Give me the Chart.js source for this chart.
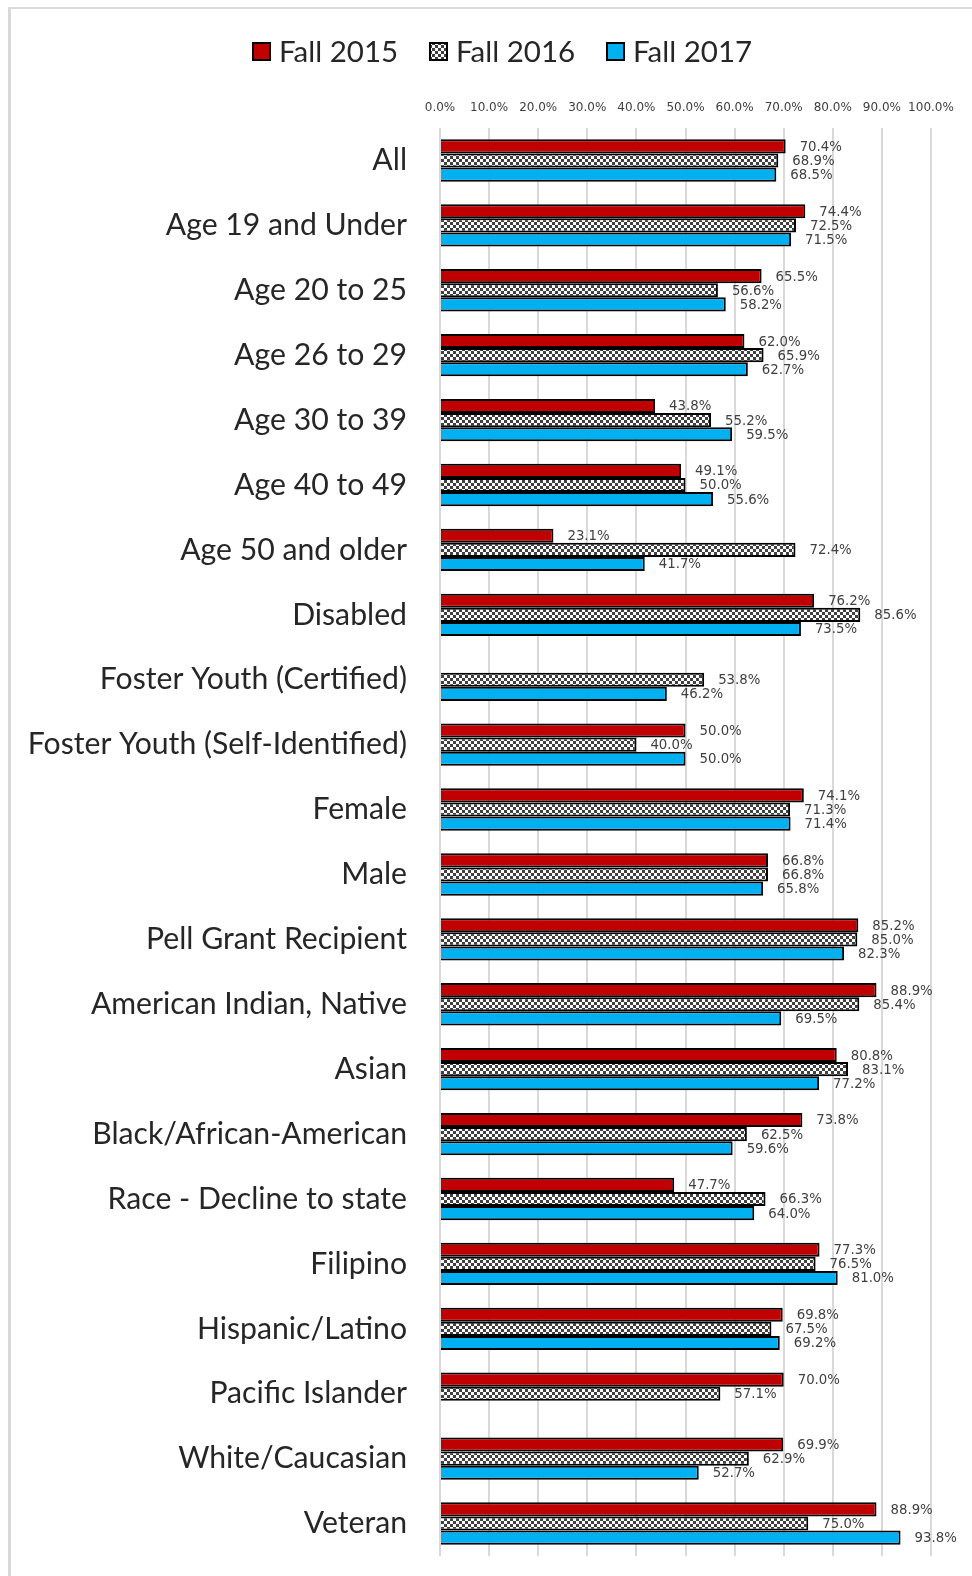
<!DOCTYPE html>
<html>
<head>
<meta charset="utf-8">
<script src="https://cdn.jsdelivr.net/npm/chart.js@4.4.1/dist/chart.umd.min.js"></script>
<style>
  body { margin: 0; background: #fff; }
  canvas { display: block; }
</style>
</head>
<body>
<canvas id="retentionChart" width="972" height="1576"></canvas>
<script>
// Categories (top to bottom)
const categories = [
    'All', 'Age 19 and Under', 'Age 20 to 25', 'Age 26 to 29', 'Age 30 to 39',
    'Age 40 to 49', 'Age 50 and older', 'Disabled', 'Foster Youth (Certified)',
    'Foster Youth (Self-Identified)', 'Female', 'Male', 'Pell Grant Recipient',
    'American Indian, Native', 'Asian', 'Black/African-American',
    'Race - Decline to state', 'Filipino', 'Hispanic/Latino', 'Pacific Islander',
    'White/Caucasian', 'Veteran'
];

const fall2015 = [70.4, 74.4, 65.5, 62.0, 43.8, 49.1, 23.1, 76.2, null, 50.0, 74.1,
    66.8, 85.2, 88.9, 80.8, 73.8, 47.7, 77.3, 69.8, 70.0, 69.9, 88.9];
const fall2016 = [68.9, 72.5, 56.6, 65.9, 55.2, 50.0, 72.4, 85.6, 53.8, 40.0, 71.3,
    66.8, 85.0, 85.4, 83.1, 62.5, 66.3, 76.5, 67.5, 57.1, 62.9, 75.0];
const fall2017 = [68.5, 71.5, 58.2, 62.7, 59.5, 55.6, 41.7, 73.5, 46.2, 50.0, 71.4,
    65.8, 82.3, 69.5, 77.2, 59.6, 64.0, 81.0, 69.2, null, 52.7, 93.8];

const seriesNames = ['Fall 2015', 'Fall 2016', 'Fall 2017'];

// Small checkerboard fill for Fall 2016
function makeChecker() {
    const c = document.createElement('canvas');
    c.width = 6;
    c.height = 6;
    const g = c.getContext('2d');
    g.fillStyle = '#ffffff';
    g.fillRect(0, 0, 6, 6);
    g.fillStyle = '#404040';
    g.fillRect(0, 0, 3, 3);
    g.fillRect(3, 3, 3, 3);
    return g.createPattern(c, 'repeat');
}

const ctx = document.getElementById('retentionChart').getContext('2d');
const checker = makeChecker();

// frame line round the chart (only top and left are inside the picture)
const framePlugin = {
    id: 'frame',
    beforeDraw(chart) {
        const c = chart.ctx;
        c.save();
        c.fillStyle = '#d9d9d9';
        c.fillRect(8, 7, 964, 2);
        c.fillRect(8, 7, 3, 1569);
        c.restore();
    }
};

// value labels, drawn under the bars like the original
const valueLabels = {
    id: 'valueLabels',
    beforeDatasetsDraw(chart) {
        const c = chart.ctx;
        c.save();
        c.font = '13.3px "DejaVu Sans"';
        c.fillStyle = '#404040';
        c.textAlign = 'left';
        c.textBaseline = 'middle';
        chart.data.datasets.forEach((ds, i) => {
            chart.getDatasetMeta(i).data.forEach((bar, j) => {
                const v = ds.data[j];
                if (v === null) return;
                c.fillText(v.toFixed(1) + '%', bar.x + 14, bar.y + 1);
            });
        });
        c.restore();
    }
};

// legend drawn by hand to sit where the original one is
const legendPlugin = {
    id: 'customLegend',
    afterDraw(chart) {
        const c = chart.ctx;
        const items = [
            { box: 253, text: 279 },
            { box: 430, text: 456 },
            { box: 607, text: 633 }
        ];
        c.save();
        c.font = '29.5px Lato';
        c.textBaseline = 'middle';
        c.textAlign = 'left';
        chart.data.datasets.forEach((ds, i) => {
            c.fillStyle = ds.backgroundColor;
            c.fillRect(items[i].box, 43, 17, 17);
            c.lineWidth = 2;
            c.strokeStyle = '#000';
            c.strokeRect(items[i].box, 43, 17, 17);
            c.fillStyle = '#262626';
            c.fillText(ds.label, items[i].text, 52);
        });
        c.restore();
    }
};

const chart = new Chart(ctx, {
    type: 'bar',
    data: {
        labels: categories,
        datasets: [{
            label: seriesNames[0],
            data: fall2015,
            backgroundColor: '#C00000',
            borderColor: '#000000',
            borderWidth: 2
        }, {
            label: seriesNames[1],
            data: fall2016,
            backgroundColor: checker,
            borderColor: '#000000',
            borderWidth: 2
        }, {
            label: seriesNames[2],
            data: fall2017,
            backgroundColor: '#00B0F0',
            borderColor: '#000000',
            borderWidth: 2
        }]
    },
    options: {
        indexAxis: 'y',
        responsive: false,
        animation: false,
        devicePixelRatio: 1,
        categoryPercentage: 0.653,
        barPercentage: 1.0,
        layout: {
            padding: { left: 0, right: 41, top: 0, bottom: 20 }
        },
        scales: {
            x: {
                position: 'top',
                min: 0,
                max: 100,
                ticks: {
                    stepSize: 10,
                    autoSkip: false,
                    maxRotation: 0,
                    padding: 13,
                    color: '#404040',
                    font: { family: 'DejaVu Sans', size: 12 },
                    callback: v => v.toFixed(1) + '%'
                },
                grid: {
                    color: '#d9d9d9',
                    lineWidth: 2,
                    drawTicks: false
                },
                border: { display: false },
                afterFit: s => { s.height = 128; }
            },
            y: {
                ticks: {
                    autoSkip: false,
                    padding: 33,
                    color: '#262626',
                    font: { family: 'Lato', size: 30.2 }
                },
                grid: { display: false, drawTicks: false },
                border: { display: false },
                afterFit: s => {
                    s.width = 440;
                    s.paddingTop = 0;
                    s.paddingBottom = 0;
                }
            }
        },
        plugins: {
            legend: { display: false },
            tooltip: { enabled: false }
        }
    },
    plugins: [framePlugin, valueLabels, legendPlugin]
});
</script>
</body>
</html>
